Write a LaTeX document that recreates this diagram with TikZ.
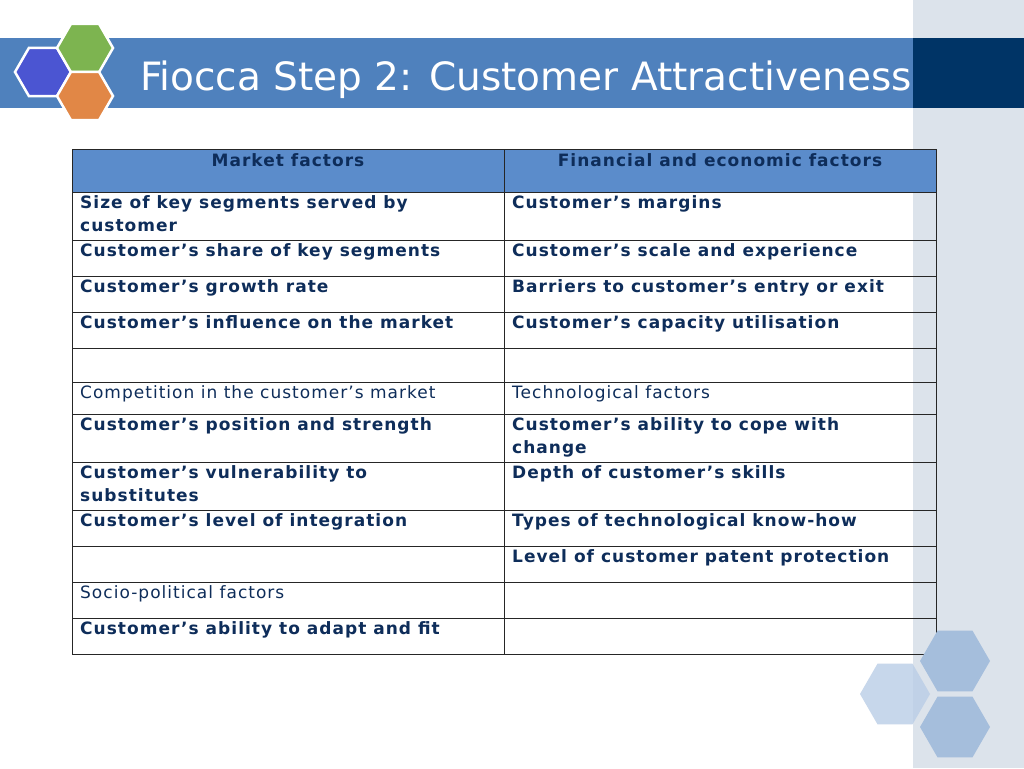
\documentclass[tikz,border=0pt]{standalone}
\usepackage{fontspec}
\setmainfont{DejaVu Sans}
\usetikzlibrary{shapes.geometric}
\definecolor{barblue}{HTML}{4F81BD}
\definecolor{darkblk}{HTML}{003466}
\definecolor{strip}{HTML}{DCE3EB}
\definecolor{hdrfill}{HTML}{5B8CCB}
\definecolor{txt}{HTML}{0E2D5A}
\definecolor{hexa}{HTML}{A5BEDC}
\definecolor{hexb}{HTML}{B9CDE6}
\newcommand{\cellfont}{\fontsize{17}{23}\selectfont\addfontfeature{LetterSpace=6}}
\tikzset{
 hexs/.style={regular polygon, regular polygon sides=6, minimum size=#1, inner sep=0pt, draw=white, line width=2.5pt},
 hexl/.style={regular polygon, regular polygon sides=6, minimum size=#1, inner sep=0pt},
 cell/.style={anchor=north west, inner sep=0pt, align=left, text=txt, font=\cellfont\bfseries},
 cellr/.style={cell, font=\cellfont},
 hcell/.style={anchor=north, inner sep=0pt, text=txt, font=\cellfont\bfseries},
 grid/.style={draw=black!85, line width=1pt}
}
\begin{document}
\begin{tikzpicture}[x=1pt,y=-1pt]
\useasboundingbox (0,0) rectangle (1024,768);
\fill[white] (0,0) rectangle (1024,768);
\fill[strip] (913,0) rectangle (1024,768);
\fill[barblue] (0,38) rectangle (913,108);
\fill[darkblk] (913,38) rectangle (1024,108);
\node[hexs=56, fill={rgb,255:red,75;green,85;blue,210}] (h1) at (43,72) {};
\node[hexs=56, fill={rgb,255:red,125;green,180;blue,80}] (h2) at (85,48) {};
\node[hexs=56, fill={rgb,255:red,225;green,135;blue,70}] (h3) at (85,96) {};
\node[anchor=base west, inner sep=0pt, text=white, font=\fontsize{39}{39}\selectfont] (title) at (140,90) {Fiocca Step 2: Customer Attractiveness};
% table
\fill[hdrfill] (72,149) rectangle (936,192);
\foreach \y in {149,192,240,276,312,348,382,414,462,510,546,582,618,654}
  \draw[grid] (72,\y) -- (936,\y);
\draw[grid] (72,149) -- (72,654);
\draw[grid] (504,149) -- (504,654);
\draw[grid] (936,149) -- (936,654);
\node[hcell] (hA) at (288,153) {Market factors};
\node[hcell] (hB) at (720,153) {Financial and economic factors};
\def\xa{80}\def\xb{512}
\node[cell] (a1) at (\xa,195) {Size of key segments served by\\customer};
\node[cell] (b1) at (\xb,195) {Customer’s margins};
\node[cell] (a2) at (\xa,243) {Customer’s share of key segments};
\node[cell] (b2) at (\xb,243) {Customer’s scale and experience};
\node[cell] (a3) at (\xa,279) {Customer’s growth rate};
\node[cell] (b3) at (\xb,279) {Barriers to customer’s entry or exit};
\node[cell] (a4) at (\xa,315) {Customer’s influence on the market};
\node[cell] (b4) at (\xb,315) {Customer’s capacity utilisation};
\node[cellr] (a6) at (\xa,385) {Competition in the customer’s market};
\node[cellr] (b6) at (\xb,385) {Technological factors};
\node[cell] (a7) at (\xa,417) {Customer’s position and strength};
\node[cell] (b7) at (\xb,417) {Customer’s ability to cope with\\change};
\node[cell] (a8) at (\xa,465) {Customer’s vulnerability to\\substitutes};
\node[cell] (b8) at (\xb,465) {Depth of customer’s skills};
\node[cell] (a9) at (\xa,513) {Customer’s level of integration};
\node[cell] (b9) at (\xb,513) {Types of technological know-how};
\node[cell] (b10) at (\xb,549) {Level of customer patent protection};
\node[cellr] (a11) at (\xa,585) {Socio-political factors};
\node[cell] (a12) at (\xa,621) {Customer’s ability to adapt and fit};
% bottom-right hexagons
\node[hexl=70, fill=hexa] (g1) at (955,661) {};
\node[hexl=70, fill=hexa] (g2) at (955,727) {};
\node[hexl=70, fill=hexb, fill opacity=0.8] (g3) at (895,694) {};
\end{tikzpicture}
\end{document}
